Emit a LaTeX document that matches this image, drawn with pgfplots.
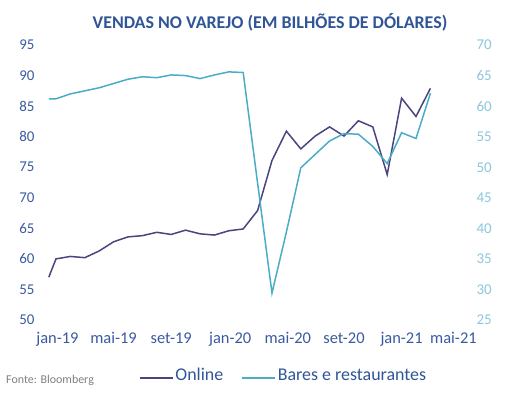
\documentclass[border=0pt]{standalone}
\usepackage{pgfplots}
\pgfplotsset{compat=1.18}
\usepackage{fontspec}
\setmainfont{Carlito}
\definecolor{online}{RGB}{74,69,128}
\definecolor{bares}{RGB}{75,172,198}
\definecolor{titleblue}{RGB}{47,85,151}
\definecolor{tickblue}{RGB}{58,90,160}
\definecolor{rightblue}{RGB}{140,198,220}
\pgfplotstableread{
m online
-0.5 57.0
0 60.0
1 60.4
2 60.2
3 61.3
4 62.8
5 63.6
6 63.8
7 64.35
8 64.0
9 64.7
10 64.1
11 63.9
12 64.6
13 64.9
14 67.9
15 76.1
16 80.9
17 78.0
18 80.1
19 81.6
20 80.1
21 82.6
22 81.6
23 73.8
24 86.3
25 83.3
26 87.9
}\onlinetable
\pgfplotstableread{
m bares
-0.5 61.2
0 61.2
1 62.0
2 62.5
3 63.0
4 63.7
5 64.4
6 64.8
7 64.65
8 65.1
9 65.0
10 64.5
11 65.1
12 65.6
13 65.5
14 47.4
15 29.4
16 39.4
17 49.9
18 52.1
19 54.3
20 55.5
21 55.4
22 53.4
23 50.6
24 55.65
25 54.7
26 62.1
}\barestable
\begin{document}
\begin{tikzpicture}
\path[use as bounding box] (0,0) rectangle (512bp,394bp);
\begin{axis}[
  at={(40bp,74bp)}, anchor=south west,
  scale only axis, width=431bp, height=275bp,
  xmin=-1.11, xmax=28.82, ymin=50, ymax=95,
  axis line style={draw=none},
  major tick length=0pt,
  xtick={0.1,4,8,12.1,16.1,20,24,27.6},
  xticklabels={jan-19,mai-19,set-19,jan-20,mai-20,set-20,jan-21,mai-21},
  ytick={50,55,...,95},
  axis y line*=left, axis x line*=bottom,
  /pgf/number format/assume math mode=true,
  xticklabel style={font=\fontsize{16.5}{16.5}\selectfont, text=tickblue, yshift=-9bp},
  yticklabel style={font=\fontsize{15}{15}\selectfont, text=tickblue, xshift=-2bp},
  legend columns=2,
  legend style={at={(0.565,-0.2)}, anchor=center, draw=none, fill=none,
    font=\fontsize{18}{18}\selectfont, text=titleblue,
    /tikz/every even column/.append style={column sep=16bp}},
  legend image code/.code={\draw[#1] (0bp,-3bp) -- (33bp,-3bp);},
]
\addplot[online, line width=1.5bp] table[x=m,y=online] {\onlinetable};
\addlegendentry{Online}
\addlegendimage{bares, line width=1.5bp}
\addlegendentry{Bares e restaurantes}
\end{axis}
\begin{axis}[
  at={(40bp,74bp)}, anchor=south west,
  scale only axis, width=431bp, height=275bp,
  xmin=-1.11, xmax=28.82, ymin=25, ymax=70,
  axis line style={draw=none},
  major tick length=0pt,
  axis y line*=right, hide x axis,
  ytick={25,30,...,70},
  /pgf/number format/assume math mode=true,
  yticklabel style={font=\fontsize{15}{15}\selectfont, text=rightblue, xshift=2bp},
]
\addplot[bares, line width=1.5bp] table[x=m,y=bares] {\barestable};
\end{axis}
\node[font=\fontsize{18}{18}\selectfont\bfseries, text=titleblue] at (270bp,372bp) {VENDAS NO VAREJO (EM BILHÕES DE DÓLARES)};
\node[font=\fontsize{12}{12}\selectfont, text=gray, anchor=west, inner sep=0pt] at (6bp,14bp) {Fonte: Bloomberg};
\end{tikzpicture}
\end{document}
